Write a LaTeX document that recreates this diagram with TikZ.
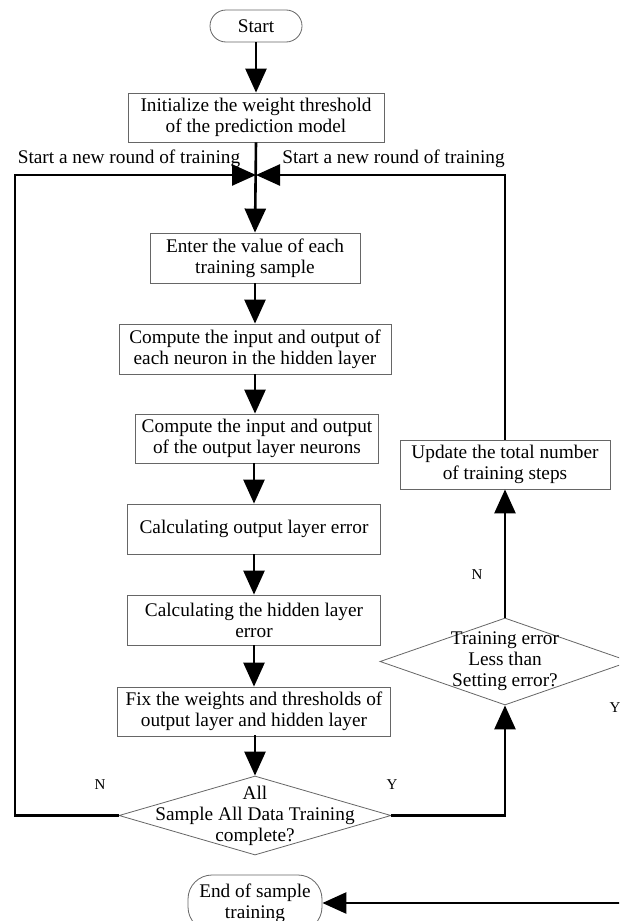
\documentclass[tikz,border=0pt]{standalone}
\usepackage{fontspec}
\setmainfont{Liberation Serif}
\usetikzlibrary{arrows.meta,shapes.geometric}
\newcommand\bxfont{\fontsize{19.3}{21}\selectfont}
\newcommand\lblfont{\fontsize{15}{17}\selectfont}
\begin{document}
\begin{tikzpicture}[x=1pt,y=-1pt,
  stepbox/.style={draw=black!60,line width=0.8pt,inner sep=0pt,align=center,font=\bxfont,minimum height=50pt},
  term/.style={stepbox,rounded corners=16pt},
  decision/.style={diamond,draw=black!60,line width=0.8pt,inner sep=0pt},
  dtext/.style={align=center,font=\bxfont,inner sep=0pt},
  conn/.style={line width=2.6pt},
  arr/.style={conn,-{Triangle[length=24pt,width=21pt]}},
  lbl/.style={font=\lblfont,inner sep=0pt},
  rlbl/.style={font=\bxfont,inner sep=0pt}]
\useasboundingbox (0,0) rectangle (619,921);
\clip (0,0) rectangle (619,921);
\fill[white] (0,0) rectangle (619,921);
% nodes
\node[term,minimum width=92pt,minimum height=32pt] (start) at (256,26) {Start};
\node[stepbox,minimum width=256pt,minimum height=49pt] (init) at (256,117.5) {Initialize the weight threshold\\of the prediction model};
\node[stepbox,minimum width=210pt] (enter) at (255,258) {Enter the value of each\\training sample};
\node[stepbox,minimum width=272pt] (comp1) at (255,349) {Compute the input and output of\\each neuron in the hidden layer};
\node[stepbox,minimum width=243pt,minimum height=49pt] (comp2) at (257,438.5) {Compute the input and output\\of the output layer neurons};
\node[stepbox,minimum width=253pt] (calco) at (254,529) {Calculating output layer error};
\node[stepbox,minimum width=253pt] (calch) at (254,620) {Calculating the hidden layer\\error};
\node[stepbox,minimum width=273pt,minimum height=49pt] (fix) at (254,711.5) {Fix the weights and thresholds of\\output layer and hidden layer};
\node[decision,minimum width=272pt,minimum height=79pt] (d1) at (255,815.5) {};
\node[dtext] (d1t) at (d1.center) {All\\Sample All Data Training\\complete?};
\node[term,minimum width=134pt,minimum height=56pt,rounded corners=24pt] (end) at (255,903) {End of sample\\training};
\node[stepbox,minimum width=210pt,minimum height=49pt] (upd) at (505,464.5) {Update the total number\\of training steps};
\node[decision,minimum width=250pt,minimum height=87pt] (d2) at (505,661.5) {};
\node[dtext] (d2t) at (d2.center) {Training error\\Less than\\Setting error?};
% junction and bends
\coordinate (jn) at (init.south |- 0,175);
\coordinate (lt) at (15,175);
\coordinate (lb) at (15,815.5);
\coordinate (rt) at (505,175);
\coordinate (yb) at (505,815.5);
\coordinate (ro) at (660,661.5);
\coordinate (rb) at (660,903);
% labels
\node[rlbl] (l1) at (129,159) {Start a new round of training};
\node[rlbl] (l2) at (393.5,159) {Start a new round of training};
\node[lbl] (n1) at (100,785) {N};
\node[lbl] (y1) at (392,785) {Y};
\node[lbl] (n2) at (477,575) {N};
\node[lbl] (y2) at (615,708) {Y};
% connectors
\draw[arr] (start) -- (init);
\draw[arr] (d1.west) -- (lb) -- (lt) -- (jn);
\draw[arr] (upd.north) -- (rt) -- (jn);
\draw[arr] (init.south) -- (enter.north);
\draw[arr] (enter) -- (comp1);
\draw[arr] (comp1.south) -- (comp1.south |- comp2.north);
\draw[arr] (comp2.south -| calco.north) -- (calco.north);
\draw[arr] (calco) -- (calch);
\draw[arr] (calch) -- (fix);
\draw[arr] (fix.south) -- (fix.south -| d1.north) -- (d1.north);
\draw[arr] (d1.east) -- (yb) -- (d2.south);
\draw[arr] (d2.north) -- (upd.south);
\draw[arr] (d2.east) -- (ro) -- (rb) -- (end.east);
\end{tikzpicture}
\end{document}
